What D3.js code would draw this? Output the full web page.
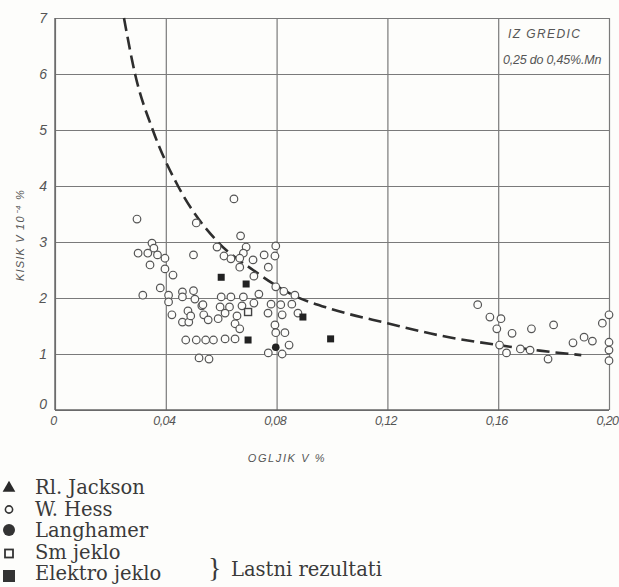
<!DOCTYPE html>
<html>
<head>
<meta charset="utf-8">
<script src="https://cdn.jsdelivr.net/npm/d3@7"></script>
<style>
  body { margin: 0; background: #fdfdfb; }
  svg { display: block; }
  .tick text { font-family: "Liberation Sans", sans-serif; font-style: italic; fill: #555; }
</style>
</head>
<body>
<script>
// ogljik (C %) vs kisik (O, 10^-4 %)
var xTicks = [0, 0.04, 0.08, 0.12, 0.16, 0.20];
var xTickLabels = ["0", "0,04", "0,08", "0,12", "0,16", "0,20"];
var yTicks = [0, 1, 2, 3, 4, 5, 6, 7];

var hessC = [0.0296,0.0350,0.0357,0.0300,0.0335,0.0370,0.0397,0.0343,0.0397,0.0426,0.0380,0.0317,0.0410,0.0460,0.0500,0.0410,0.0460,0.0505,0.0422,0.0480,0.0530,0.0460,0.0483,0.0490,0.0537,0.0553,0.0472,0.0510,0.0544,0.0572,0.0614,0.0650,0.0520,0.0556,0.0500,0.0510,0.0585,0.0646,0.0670,0.0690,0.0680,0.0610,0.0635,0.0667,0.0715,0.0755,0.0797,0.0794,0.0667,0.0718,0.0770,0.0797,0.0826,0.0866,0.0736,0.0600,0.0635,0.0680,0.0718,0.0780,0.0815,0.0855,0.0534,0.0596,0.0630,0.0675,0.0589,0.0614,0.0657,0.0769,0.0820,0.0877,0.0650,0.0667,0.0794,0.0797,0.0830,0.0845,0.0770,0.0820,
  0.1526,0.1570,0.1610,0.1595,0.1650,0.1720,0.1800,0.1605,0.1630,0.1680,0.1715,0.1780,0.1870,0.1910,0.1940,0.1976,0.2000,0.2000,0.2000,0.2000];
var hessO = [3.41,2.98,2.89,2.80,2.80,2.77,2.71,2.59,2.52,2.41,2.18,2.05,2.05,2.11,2.13,1.93,2.02,1.98,1.70,1.77,1.86,1.57,1.57,1.68,1.70,1.61,1.25,1.25,1.25,1.25,1.27,1.27,0.93,0.91,2.77,3.34,2.91,3.77,3.11,2.91,2.80,2.75,2.70,2.71,2.68,2.77,2.93,2.75,2.55,2.39,2.55,2.20,2.12,2.05,2.07,2.02,2.02,2.02,1.91,1.89,1.88,1.89,1.88,1.84,1.84,1.86,1.63,1.73,1.68,1.73,1.70,1.73,1.54,1.45,1.52,1.38,1.38,1.16,1.02,1.00,
  1.88,1.66,1.63,1.45,1.37,1.45,1.52,1.16,1.02,1.09,1.07,0.91,1.20,1.30,1.23,1.55,1.70,1.21,1.07,0.88];

var langC = [0.0797];
var langO = [1.12];
var smC = [0.0697];
var smO = [1.75];
var elektroC = [0.0600, 0.0690, 0.0895, 0.0697, 0.0995];
var elektroO = [2.37, 2.25, 1.66, 1.25, 1.27];

// hand-drawn trend curve
var curveC = [0.0249, 0.0289, 0.0353, 0.0444, 0.0588, 0.0715, 0.086, 0.100, 0.120, 0.140, 0.160, 0.175, 0.190];
var curveO = [7.0, 6.0, 5.0, 4.0, 3.0, 2.5, 2.05, 1.8, 1.55, 1.32, 1.16, 1.06, 0.98];

var legendNames = ["Rl. Jackson", "W. Hess", "Langhamer", "Sm jeklo", "Elektro jeklo"];

var W = 619, H = 587;
var m = {left: 55, right: 10, top: 18, bottom: 177};
var w = W - m.left - m.right, h = H - m.top - m.bottom;

var svg = d3.select("body").append("svg").attr("width", W).attr("height", H);
var g = svg.append("g").attr("transform", "translate(" + m.left + "," + m.top + ")");

var x = d3.scaleLinear().domain([0, 0.2]).range([0, w]);
var y = d3.scaleLinear().domain([0, 7]).range([h, 0]);

var xAxis = g.append("g").attr("transform", "translate(0," + h + ")")
  .call(d3.axisBottom(x).tickValues(xTicks).tickSize(-h)
    .tickFormat(function(d, i) { return xTickLabels[i]; }));
var yAxis = g.append("g")
  .call(d3.axisLeft(y).tickValues(yTicks).tickSize(-w).tickFormat(d3.format("d")));

[xAxis, yAxis].forEach(function(a) {
  a.select(".domain").remove();
  a.selectAll(".tick line").attr("stroke", "#7a7a7a").attr("stroke-width", 1.2);
});
xAxis.selectAll(".tick text").attr("font-size", 12.5).attr("letter-spacing", -0.6).attr("dy", "0.95em").attr("dx", -2);
yAxis.selectAll(".tick text").attr("font-size", 14).attr("x", -8);
yAxis.selectAll(".tick").filter(function(d) { return d === 0; }).select("text").attr("dy", "-0.1em");

// axis lines
g.append("line").attr("x1", 0).attr("x2", 0).attr("y1", 0).attr("y2", h).attr("stroke", "#666").attr("stroke-width", 1.4);
g.append("line").attr("x1", 0).attr("x2", w).attr("y1", h).attr("y2", h).attr("stroke", "#666").attr("stroke-width", 1.4);

var line = d3.line()
  .x(function(d, i) { return x(curveC[i]); })
  .y(function(d, i) { return y(curveO[i]); })
  .curve(d3.curveMonotoneX);

g.append("path")
  .attr("d", line(curveC))
  .attr("fill", "none")
  .attr("stroke", "#2e2e2e")
  .attr("stroke-width", 2.6)
  .attr("stroke-dasharray", "13,6");

g.selectAll("circle.hess")
  .data(hessC)
  .enter().append("circle")
    .attr("class", "hess")
    .attr("cx", function(d) { return x(d); })
    .attr("cy", function(d, i) { return y(hessO[i]); })
    .attr("r", 3.8)
    .attr("fill", "#fdfdfb")
    .attr("stroke", "#555")
    .attr("stroke-width", 1.2);

g.selectAll("rect.sm")
  .data(smC)
  .enter().append("rect")
    .attr("class", "sm")
    .attr("x", function(d) { return x(d) - 3.5; })
    .attr("y", function(d, i) { return y(smO[i]) - 3.5; })
    .attr("width", 7).attr("height", 7)
    .attr("fill", "#fdfdfb").attr("stroke", "#444").attr("stroke-width", 1.4);

g.selectAll("rect.elektro")
  .data(elektroC)
  .enter().append("rect")
    .attr("class", "elektro")
    .attr("x", function(d) { return x(d) - 3.5; })
    .attr("y", function(d, i) { return y(elektroO[i]) - 3.5; })
    .attr("width", 7).attr("height", 7)
    .attr("fill", "#222");

g.selectAll("circle.lang")
  .data(langC)
  .enter().append("circle")
    .attr("class", "lang")
    .attr("cx", function(d) { return x(d); })
    .attr("cy", function(d, i) { return y(langO[i]); })
    .attr("r", 3.8)
    .attr("fill", "#222");

// inset note
var note = svg.append("g").attr("font-family", "Liberation Sans, sans-serif").attr("font-style", "italic").attr("fill", "#555");
note.append("text").attr("x", 508).attr("y", 38).attr("font-size", 12).attr("letter-spacing", 1.4).text("IZ  GREDIC");
note.append("text").attr("x", 503).attr("y", 64).attr("font-size", 12.5).attr("letter-spacing", -0.2).text("0,25 do 0,45%.Mn");

// axis titles
svg.append("text")
  .attr("transform", "translate(24,235) rotate(-90)")
  .attr("text-anchor", "middle")
  .attr("font-family", "Liberation Sans, sans-serif").attr("font-style", "italic")
  .attr("font-size", 11).attr("letter-spacing", 1.2).attr("fill", "#555")
  .text("KISIK  V  10⁻⁴ %");

svg.append("text")
  .attr("x", 287).attr("y", 462)
  .attr("text-anchor", "middle")
  .attr("font-family", "Liberation Sans, sans-serif").attr("font-style", "italic")
  .attr("font-size", 11).attr("letter-spacing", 1.6).attr("fill", "#555")
  .text("OGLJIK   V    %");

// legend
var leg = svg.append("g").attr("font-family", "DejaVu Serif, serif").attr("font-size", 19.5).attr("fill", "#3a3a3a");
var ly = d3.scalePoint().domain(legendNames).range([494, 580]);
leg.selectAll("text.lg")
  .data(legendNames)
  .enter().append("text")
    .attr("class", "lg")
    .attr("x", 35)
    .attr("y", function(d) { return ly(d); })
    .text(function(d) { return d; });

var sym = leg.append("g");
sym.append("path").attr("d", d3.symbol(d3.symbolTriangle, 70)()).attr("transform", "translate(9," + (ly("Rl. Jackson") - 6) + ")").attr("fill", "#2a2a2a");
sym.append("circle").attr("cx", 9).attr("cy", ly("W. Hess") - 6).attr("r", 3.6).attr("fill", "none").attr("stroke", "#333").attr("stroke-width", 1.6);
sym.append("circle").attr("cx", 9).attr("cy", ly("Langhamer") - 7).attr("r", 6).attr("fill", "#333");
sym.append("rect").attr("x", 5).attr("y", ly("Sm jeklo") - 9).attr("width", 8).attr("height", 8).attr("fill", "none").attr("stroke", "#333").attr("stroke-width", 1.8);
sym.append("rect").attr("x", 3).attr("y", ly("Elektro jeklo") - 10).attr("width", 12).attr("height", 12).attr("fill", "#333");

leg.append("text").attr("x", 208).attr("y", 577).attr("font-size", 28).attr("font-family", "Liberation Serif, serif").text("}");
leg.append("text").attr("x", 231).attr("y", 576).text("Lastni rezultati");
</script>
</body>
</html>
